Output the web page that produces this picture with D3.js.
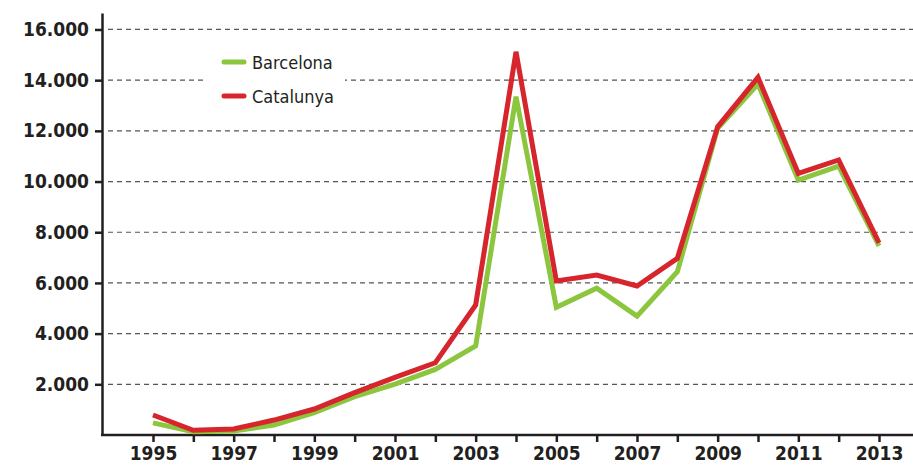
<!DOCTYPE html>
<html>
<head>
<meta charset="utf-8">
<script src="https://cdn.jsdelivr.net/npm/d3@7"></script>
<style>
  body { margin: 0; background: #fff; }
  text { font-family: "DejaVu Sans Condensed", "Liberation Sans Narrow", sans-serif; fill: #231f20; }
</style>
</head>
<body>
<div id="chart"></div>
<script>
(() => {

    // data
    var years = [1995, 1996, 1997, 1998, 1999, 2000, 2001, 2002, 2003, 2004,
        2005, 2006, 2007, 2008, 2009, 2010, 2011, 2012, 2013];
    var barcelona = [480, 130, 160, 395, 880, 1510, 2010, 2590, 3510, 13350,
        5040, 5790, 4690, 6440, 12100, 13850, 10060, 10610, 7460];
    var catalunya = [790, 185, 235, 590, 1025, 1670, 2275, 2850, 5130, 15120,
        6075, 6310, 5880, 6970, 12160, 14110, 10320, 10850, 7585];
    var yTicks = [2000, 4000, 6000, 8000, 10000, 12000, 14000, 16000];
    var xLabels = [1995, 1997, 1999, 2001, 2003, 2005, 2007, 2009, 2011, 2013];
    var seriesNames = ["Barcelona", "Catalunya"];
    var seriesColors = ["#8cc63f", "#d7252e"];

    var width = 913, height = 466;
    var ink = "#231f20";
    var tickFont = "'DejaVu Sans Condensed', 'Liberation Sans Narrow', sans-serif";

    var svg = d3.select("#chart")
        .append("svg")
        .attr("width", width)
        .attr("height", height);

    var locale = d3.formatLocale({ decimal: ",", thousands: ".", grouping: [3], currency: ["", ""] });
    var fmt = locale.format(",");

    var x = d3.scalePoint()
        .domain(years)
        .range([153, 879]);

    var y = d3.scaleLinear()
        .domain([0, 16650])
        .range([435, 13]);

    // dashed grid
    svg.append("g")
        .selectAll("line")
        .data(yTicks)
        .enter()
        .append("line")
        .attr("x1", 108)
        .attr("x2", width)
        .attr("y1", d => y(d))
        .attr("y2", d => y(d))
        .attr("stroke", "#555")
        .attr("stroke-width", 1.2)
        .attr("stroke-dasharray", "5,4");

    // y axis
    var yAxis = svg.append("g")
        .attr("transform", "translate(102,0)")
        .call(d3.axisLeft(y).tickValues(yTicks).tickFormat(fmt).tickSize(7).tickSizeOuter(0).tickPadding(6));
    yAxis.select(".domain").attr("stroke", ink).attr("stroke-width", 2.5);
    yAxis.selectAll(".tick line").attr("stroke", ink).attr("stroke-width", 2.5);
    yAxis.selectAll("text")
        .style("font-size", "19px")
        .style("font-weight", "bold")
        .style("font-family", tickFont)
        .attr("fill", ink);

    // x axis
    var xAxis = svg.append("g")
        .attr("transform", "translate(0,435)")
        .call(d3.axisBottom(x)
            .tickFormat(d => xLabels.indexOf(d) >= 0 ? d : "")
            .tickSize(7).tickSizeOuter(0).tickPadding(5));
    xAxis.select(".domain").remove();
    xAxis.append("line")
        .attr("x1", 101).attr("x2", width)
        .attr("stroke", ink).attr("stroke-width", 2.5);
    xAxis.selectAll(".tick line").attr("stroke", ink).attr("stroke-width", 2.5);
    xAxis.selectAll("text")
        .style("font-size", "19px")
        .style("font-weight", "bold")
        .style("font-family", tickFont)
        .attr("fill", ink);

    // lines
    var seriesData = [barcelona, catalunya];
    var line = d3.line()
        .x((d, i) => x(years[i]))
        .y(d => y(d));

    svg.selectAll(".series")
        .data(seriesData)
        .enter()
        .append("path")
        .attr("class", "series")
        .attr("d", d => line(d))
        .attr("fill", "none")
        .attr("stroke", (d, i) => seriesColors[i])
        .attr("stroke-width", 5)
        .attr("stroke-linejoin", "miter");

    // legend
    svg.append("rect")
        .attr("x", 205).attr("y", 45)
        .attr("width", 140).attr("height", 68)
        .attr("fill", "#fff");

    var legend = svg.selectAll(".legend")
        .data(seriesNames)
        .enter()
        .append("g")
        .attr("class", "legend")
        .attr("transform", (d, i) => "translate(224," + (62 + i * 34) + ")");
    legend.append("line")
        .attr("x1", 0).attr("x2", 20)
        .attr("stroke", (d, i) => seriesColors[i])
        .attr("stroke-width", 5)
        .attr("stroke-linecap", "round");
    legend.append("text")
        .attr("x", 28)
        .attr("y", 7)
        .style("font-size", "18px")
        .text(d => d);

})();
</script>
</body>
</html>
